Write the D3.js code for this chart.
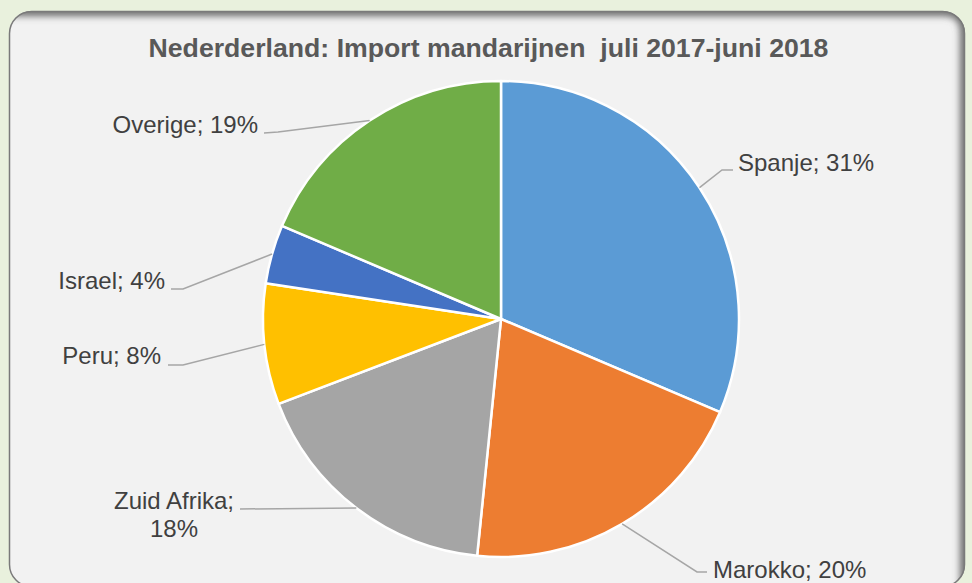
<!DOCTYPE html>
<html><head><meta charset="utf-8">
<script src="https://cdn.jsdelivr.net/npm/d3@7"></script>
<style>
html,body{margin:0;padding:0;background:#e9f1dd;}
svg{display:block;}
text{font-family:"Liberation Sans",Arial,sans-serif;}
</style></head>
<body>
<svg id="chart" width="972" height="583"></svg>
<script>
// ---- data ----
const categories = ["Spanje", "Marokko", "Zuid Afrika", "Peru", "Israel", "Overige"];
const shares = [31.4, 20.2, 17.6, 8.2, 4.0, 18.6];
const labelPct = ["31%", "20%", "18%", "8%", "4%", "19%"];
const colors = ["#5b9bd5", "#ed7d31", "#a5a5a5", "#ffc000", "#4472c4", "#70ad47"];
const title = "Nederderland: Import mandarijnen  juli 2017-juni 2018";

// ---- layout ----
const W = 972, H = 583;
const cx = 501, cy = 319, R = 238;
// label layout: text anchor point, anchor, elbow points for leader
const labelLayout = [
  {x: 738, y: 171, anchor: "start", elbow: [[722,170],[733,170]]},
  {x: 713, y: 578, anchor: "start", elbow: [[697,572],[707,572]]},
  {x: 174, y: 509, anchor: "middle", lines: true, elbow: [[240,509]]},
  {x: 161, y: 364, anchor: "end", elbow: [[183,365],[168,365]]},
  {x: 165, y: 289, anchor: "end", elbow: [[183,289],[171,289]]},
  {x: 258, y: 133, anchor: "end", elbow: [[278,132],[264,133]]}
];

const svg = d3.select("#chart");
const defs = svg.append("defs");
defs.append("clipPath").attr("id","panelClip")
  .append("rect").attr("x",9).attr("y",11).attr("width",956).attr("height",576).attr("rx",22);
const blur = defs.append("filter").attr("id","blur").attr("x","-10%").attr("y","-10%").attr("width","120%").attr("height","120%");
blur.append("feGaussianBlur").attr("stdDeviation",3.5);

// panel
svg.append("rect").attr("x",9).attr("y",11).attr("width",956).attr("height",576).attr("rx",22)
  .attr("fill","#f2f2f2");
const sh = svg.append("g").attr("clip-path","url(#panelClip)");
sh.append("path")
  .attr("d",`M 0 ${11} L ${943} ${11} Q ${965} ${11} ${965} ${33} L ${965} ${600}`)
  .attr("fill","none").attr("stroke","#6b6b6b").attr("stroke-width",10)
  .attr("filter","url(#blur)");
svg.append("rect").attr("x",9.5).attr("y",11.5).attr("width",955).attr("height",575).attr("rx",22)
  .attr("fill","none").attr("stroke","#7a7a7a").attr("stroke-width",1.5);

// title
svg.append("text").attr("x",488.5).attr("y",57).attr("text-anchor","middle")
  .attr("font-size",26.67).attr("font-weight","bold").attr("fill","#595959")
  .style("white-space","pre").text(title);

// pie
const pie = d3.pie().sort(null).value(d => d)(shares);
const arc = d3.arc().innerRadius(0).outerRadius(R);
const g = svg.append("g").attr("transform",`translate(${cx},${cy})`);
g.selectAll("path.slice").data(pie).enter().append("path")
  .attr("class","slice").attr("d",arc)
  .attr("fill",(d,i)=>colors[i]).attr("stroke","#ffffff").attr("stroke-width",2.5)
  .attr("stroke-linejoin","round");

// leaders
pie.forEach((d,i)=>{
  const a = (d.startAngle + d.endAngle)/2;
  const p0 = [cx + R*Math.sin(a), cy - R*Math.cos(a)];
  const pts = [p0].concat(labelLayout[i].elbow);
  svg.append("path").attr("d", d3.line()(pts))
    .attr("fill","none").attr("stroke","#a6a6a6").attr("stroke-width",1.5);
});

// labels
categories.forEach((c,i)=>{
  const L = labelLayout[i];
  const t = svg.append("text").attr("x",L.x).attr("y",L.y).attr("text-anchor",L.anchor)
    .attr("font-size",24).attr("fill","#404040");
  if (L.lines) {
    t.append("tspan").attr("x",L.x).text(c + ";");
    t.append("tspan").attr("x",L.x).attr("dy",28).text(labelPct[i]);
  } else {
    t.text(c + "; " + labelPct[i]);
  }
});
</script>
</body></html>
